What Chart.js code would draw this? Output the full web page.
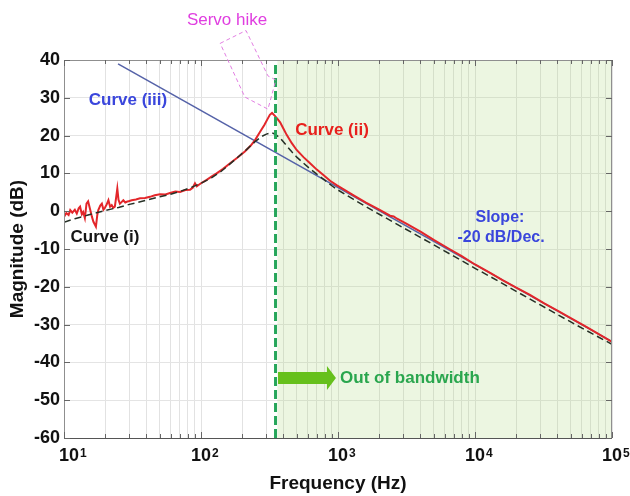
<!DOCTYPE html>
<html lang="en">
<head>
<meta charset="UTF-8" />
<title>Magnitude response</title>
<script src="https://cdn.jsdelivr.net/npm/chart.js@4"></script>
<style>
  html, body { margin: 0; padding: 0; background: #fff; }
  #wrap { width: 630px; height: 496px; }
</style>
</head>
<body>
<div id="wrap"><canvas id="bode" width="630" height="496"></canvas></div>
<script>
// axis ticks
const decadeTicks = [10, 100, 1000, 10000, 100000];
const magTicks = [-60, -50, -40, -30, -20, -10, 0, 10, 20, 30, 40];

// Curve (ii): measured response (red)
const redFreq = [10, 10.4, 10.8, 11.1, 11.5, 12, 12.4, 12.8, 13.1, 13.5, 13.8, 14.2, 14.6, 15, 15.5, 16, 16.4, 17.1, 17.5, 17.8,
  18.4, 18.9, 19.4, 19.9, 20.5, 21.1, 21.7, 22.3, 22.9, 23.5, 24, 24.5, 25, 25.6, 26.3, 27.1, 28, 28.7, 30, 31.2,
  33.5, 35.9, 39, 42.4, 46, 50.2, 55, 59.4, 65, 70.3, 77, 83.2, 87, 90.4, 93.1, 100, 110, 120, 130, 145,
  163, 185, 209, 230, 248, 270, 290, 305, 318, 330, 345, 360, 378, 400, 422, 460, 499, 560, 625, 700,
  782, 880, 977, 1100, 1300, 1600, 2000, 2400, 2550, 2700, 3200, 4000, 5000, 6500, 8000, 10000, 13000, 16000, 20000, 25000,
  32000, 40000, 50000, 65000, 80000, 100000];
const redMag = [-1.5, -0.5, -1.0, 0.3, -0.4, 0.4, -0.6, 0.8, 1.2, -0.8, -0.2, -1.8, 2.0, 2.6, 0.5, -1.5, -2.8, -4.1, -1.0, 0.3,
  1.5, 2.0, 0.4, 0.9, 1.8, 2.9, 1.2, 1.6, 0.9, 1.2, 3.5, 6.0, 3.0, 2.0, 2.4, 2.9, 2.3, 2.5, 2.7, 2.9,
  3.1, 3.4, 3.5, 3.8, 4.2, 4.5, 4.4, 4.8, 5.2, 5.1, 5.6, 5.7, 6.2, 7.4, 6.6, 7.4, 8.3, 9.2, 10.0, 11.2,
  12.7, 14.2, 15.8, 17.3, 18.8, 21.0, 22.8, 24.3, 25.5, 26.0, 25.3, 24.5, 23.5, 21.8, 20.2, 18.0, 16.2, 14.3, 12.7, 11.0,
  9.6, 8.0, 6.9, 5.8, 4.2, 2.3, 0.4, -1.2, -1.4, -2.0, -3.4, -5.4, -7.6, -10.0, -11.9, -14.1, -16.4, -18.3, -20.2, -22.1,
  -24.4, -26.3, -28.3, -30.6, -32.5, -34.6];

// Curve (i): model response (black dashed)
const blackFreq = [10, 12, 15, 20, 25, 30, 40, 50, 60, 70, 85, 100, 120, 140, 163, 190, 215, 248, 275, 300,
  328, 350, 380, 422, 460, 500, 560, 625, 700, 800, 912, 1000, 1300, 1600, 2000, 3000, 5000, 7000, 10000, 15000,
  20000, 30000, 50000, 70000, 100000];
const blackMag = [-2.9, -2.0, -1.0, 0.2, 1.0, 1.8, 2.9, 3.8, 4.5, 5.2, 6.3, 7.4, 8.9, 10.5, 12.5, 14.6, 16.3, 18.4, 19.7, 20.4,
  20.8, 20.3, 19.3, 17.3, 15.7, 14.3, 12.7, 11.2, 9.8, 8.2, 6.6, 5.6, 3.1, 1.2, -0.8, -4.4, -8.9, -11.9, -15.1, -18.6,
  -21.2, -24.8, -29.3, -32.2, -35.2];

// Curve (iii): -20 dB/Dec. asymptote (blue)
const blueFreq = [24.8, 100000];
const blueMag = [39.0, -34.5];

// bandwidth edge and shaded out-of-band region
const bandEdgeFreq = [350, 350];
const bandEdgeMag = [-60, 40];
const shadeFreq = [360, 100000];
const shadeMag = [40, 40];

// "Servo hike" dashed arrow outline, data coordinates
const hikeFreq = [138, 213, 308, 352, 308, 209, 138];
const hikeMag = [44.4, 47.8, 35.8, 34.7, 27.0, 30.2, 44.4];

// "Out of bandwidth" arrow: tail, tip frequency and level
const bandArrowFreq = [365, 966];
const bandArrowMag = -44.1;

const zip = (xs, ys) => xs.map((v, i) => ({ x: v, y: ys[i] }));

const gridFreq = [];
decadeTicks.forEach((d, i) => {
  if (i === decadeTicks.length - 1) { gridFreq.push(d); return; }
  for (let k = 1; k < 10; k += 1) gridFreq.push(k * d);
});

const FONT = '"Liberation Sans", Arial, Helvetica, sans-serif';
Chart.defaults.font.family = FONT;

const px = (chart, f, m) => [chart.scales.x.getPixelForValue(f), chart.scales.y.getPixelForValue(m)];

const decorations = {
  id: 'decorations',
  afterDraw(chart) {
    const { ctx, chartArea: a, scales: { x, y } } = chart;
    ctx.save();

    // frame and inward ticks
    ctx.strokeStyle = '#8f8f8f';
    ctx.lineWidth = 1;
    ctx.strokeRect(a.left + 0.5, a.top + 0.5, a.right - a.left - 1, a.bottom - a.top);
    ctx.strokeStyle = '#555';
    ctx.beginPath();
    ctx.moveTo(a.left, a.bottom + 0.5);
    ctx.lineTo(a.right, a.bottom + 0.5);
    ctx.stroke();
    ctx.strokeStyle = '#666';
    ctx.beginPath();
    gridFreq.forEach(v => {
      const p = Math.round(x.getPixelForValue(v)) + 0.5;
      const len = decadeTicks.includes(v) ? 6 : 4;
      ctx.moveTo(p, a.bottom); ctx.lineTo(p, a.bottom - len);
      ctx.moveTo(p, a.top); ctx.lineTo(p, a.top + len);
    });
    magTicks.forEach(v => {
      const p = Math.round(y.getPixelForValue(v)) + 0.5;
      ctx.moveTo(a.left, p); ctx.lineTo(a.left + 6, p);
      ctx.moveTo(a.right, p); ctx.lineTo(a.right - 6, p);
    });
    ctx.stroke();

    // x tick labels 10^n
    ctx.fillStyle = '#111';
    decadeTicks.forEach((v, i) => {
      let cx = x.getPixelForValue(v);
      if (i === 0) cx += 5;
      ctx.font = 'bold 18px ' + FONT;
      ctx.textAlign = 'center';
      ctx.textBaseline = 'alphabetic';
      const w = ctx.measureText('10').width;
      ctx.fillText('10', cx, a.bottom + 23);
      ctx.font = 'bold 12px ' + FONT;
      ctx.textAlign = 'left';
      ctx.fillText(String(Math.round(Math.log10(v))), cx + w / 2 + 1, a.bottom + 19);
    });

    // servo hike outline
    ctx.strokeStyle = '#e27ee2';
    ctx.lineWidth = 1;
    ctx.setLineDash([4, 3]);
    ctx.beginPath();
    hikeFreq.forEach((f, i) => {
      const [hx, hy] = px(chart, f, hikeMag[i]);
      if (i === 0) ctx.moveTo(hx, hy); else ctx.lineTo(hx, hy);
    });
    ctx.stroke();
    ctx.setLineDash([]);

    // out of bandwidth arrow
    const [ax0, ay] = px(chart, bandArrowFreq[0], bandArrowMag);
    const [ax1] = px(chart, bandArrowFreq[1], bandArrowMag);
    const hs = ax1 - 9;
    ctx.fillStyle = '#66c01c';
    ctx.beginPath();
    ctx.moveTo(ax0, ay - 6);
    ctx.lineTo(hs, ay - 6);
    ctx.lineTo(hs, ay - 12);
    ctx.lineTo(ax1, ay);
    ctx.lineTo(hs, ay + 12);
    ctx.lineTo(hs, ay + 6);
    ctx.lineTo(ax0, ay + 6);
    ctx.closePath();
    ctx.fill();

    // text labels
    const label = (str, f, m, color, font, align) => {
      const [lx, ly] = px(chart, f, m);
      ctx.font = font;
      ctx.fillStyle = color;
      ctx.textAlign = align || 'center';
      ctx.textBaseline = 'middle';
      ctx.fillText(str, lx, ly);
    };
    label('Servo hike', 155, 50.6, '#e03ee0', '17px ' + FONT);
    label('Curve (iii)', 29.3, 29.4, '#3a46dc', 'bold 17px ' + FONT);
    label('Curve (ii)', 904, 21.5, '#e8201c', 'bold 17px ' + FONT);
    label('Curve (i)', 19.9, -6.8, '#151515', 'bold 17px ' + FONT);
    label('Slope:', 15200, -1.8, '#3a46dc', 'bold 16px ' + FONT);
    label('-20 dB/Dec.', 15500, -7.1, '#3a46dc', 'bold 16px ' + FONT);
    label('Out of bandwidth', 1035, bandArrowMag, '#2aa64e', 'bold 17px ' + FONT, 'left');

    ctx.restore();
  }
};

new Chart(document.getElementById('bode'), {
  type: 'line',
  data: {
    datasets: [
      { label: 'Bandwidth edge', data: zip(bandEdgeFreq, bandEdgeMag), borderColor: '#26a65a', borderWidth: 3,
        borderDash: [9, 4], pointRadius: 0, order: 0 },
      { label: 'Curve (i)', data: zip(blackFreq, blackMag), borderColor: '#263026', borderWidth: 1.5,
        borderDash: [7, 4], pointRadius: 0, order: 1 },
      { label: 'Curve (ii)', data: zip(redFreq, redMag), borderColor: '#e3262a', borderWidth: 2,
        pointRadius: 0, order: 2 },
      { label: 'Curve (iii)', data: zip(blueFreq, blueMag), borderColor: '#5562a8', borderWidth: 1.5,
        pointRadius: 0, order: 3 },
      { label: 'Out of bandwidth', data: zip(shadeFreq, shadeMag), borderWidth: 0, borderColor: 'rgba(0,0,0,0)',
        backgroundColor: 'rgba(170, 215, 120, 0.22)', fill: 'start', pointRadius: 0, order: 10 }
    ]
  },
  options: {
    responsive: false,
    animation: false,
    devicePixelRatio: 1,
    layout: { padding: { top: 60, right: 18, left: 0, bottom: 0 } },
    plugins: { legend: { display: false }, tooltip: { enabled: false } },
    elements: { line: { tension: 0 } },
    scales: {
      x: {
        type: 'logarithmic',
        min: 10,
        max: 100000,
        afterBuildTicks: s => { s.ticks = gridFreq.map(v => ({ value: v, major: decadeTicks.includes(v) })); },
        afterFit: s => { s.height = 58; },
        ticks: { display: false, autoSkip: false },
        grid: { color: '#e2e2e2', drawTicks: false },
        border: { display: false },
        title: { display: true, text: 'Frequency (Hz)', color: '#111',
          font: { size: 19, weight: 'bold' }, padding: { top: 0, bottom: 1 } }
      },
      y: {
        min: -60,
        max: 40,
        afterBuildTicks: s => { s.ticks = magTicks.map(v => ({ value: v })); },
        afterFit: s => { s.width = 64; },
        ticks: { color: '#111', padding: 4, font: { size: 18, weight: 'bold' } },
        grid: { color: '#e4e4e4', drawTicks: false },
        border: { display: false },
        title: { display: true, text: 'Magnitude (dB)', color: '#111',
          font: { size: 19, weight: 'bold' }, padding: { top: 6, bottom: 0 } }
      }
    }
  },
  plugins: [decorations]
});
</script>
</body>
</html>
